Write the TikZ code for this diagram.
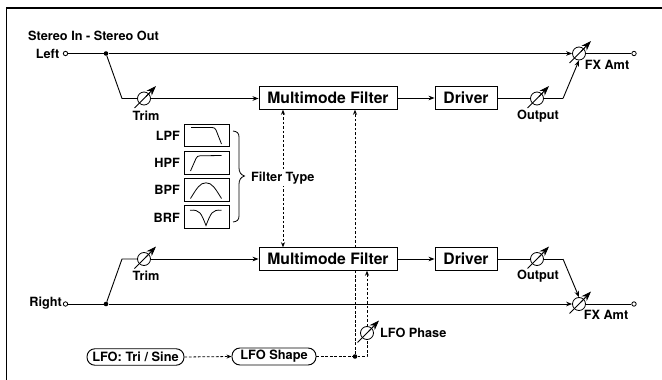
\documentclass[tikz,border=0pt]{standalone}
\usepackage{fontspec}
\setmainfont{TeX Gyre Heros}
\usetikzlibrary{arrows.meta,calc}
\tikzset{
  sig/.style={line width=0.9pt,-{Stealth[length=6pt,width=4.6pt]}},
  wire/.style={line width=0.9pt},
  ctl/.style={line width=0.8pt,dash pattern=on 2.6pt off 1.9pt},
  box/.style={draw,line width=0.95pt,fill=white,inner sep=0pt,font=\fontsize{15.7}{16}\selectfont\bfseries},
  pill/.style={draw,line width=0.95pt,fill=white,rounded corners=8pt,inner sep=0pt,font=\fontsize{12.8}{14}\selectfont\bfseries},
  small/.style={inner sep=0pt,font=\fontsize{12.7}{14}\selectfont\bfseries},
  potc/.style={draw,circle,line width=0.8pt,fill=white,minimum size=13pt,inner sep=0pt},
  port/.style={draw,circle,line width=0.8pt,fill=white,minimum size=4.4pt,inner sep=0pt},
  dot/.style={circle,fill=black,minimum size=4.6pt,inner sep=0pt},
  fbox/.style={draw,line width=0.9pt,minimum width=45pt,inner sep=0pt},
  curve/.style={line width=0.8pt},
}
\newcommand{\potslash}[1]{%
  \draw[line width=0.8pt] ($(#1)+(-9.5,9.5)$) -- ($(#1)+(6,-6)$);
  \draw[line width=0.8pt,-{Stealth[length=10pt,width=7pt]}] ($(#1)+(2,-2)$) -- ($(#1)+(12,-12.5)$);
}
\begin{document}
\begin{tikzpicture}[x=1pt,y=-1pt]
\useasboundingbox (0,0) rectangle (662,380);
\draw[line width=1.3pt] (6.5,380) -- (6.5,8) -- (662,8);

% boxes
\node[box,minimum width=138pt,minimum height=22.5pt] (MFa) at (328,98) {Multimode Filter};
\node[box,minimum width=62pt,minimum height=22.5pt] (DRa) at (466,98) {Driver};
\node[box,minimum width=138pt,minimum height=22.5pt] (MFb) at (328,259) {Multimode Filter};
\node[box,minimum width=62pt,minimum height=22.5pt] (DRb) at (466,259) {Driver};

% ports, junctions, bends
\node[port] (inL) at (65.5,53.5) {};
\node[port] (outL) at (634,53.5) {};
\node[port] (inR) at (65.5,304) {};
\node[port] (outR) at (634,304) {};
\node[dot] (jL) at (106,53.5) {};
\node[dot] (jR) at (106,304) {};
\coordinate (bLa) at (122,98.5);
\coordinate (bRa) at (122,259);
\coordinate (bLb) at (563,98.5);
\coordinate (bRb) at (563,259);

% pots
\node[potc] (trimL) at (144,98.5) {};
\node[potc] (trimR) at (144,259) {};
\node[potc] (outpL) at (537,98.5) {};
\node[potc] (outpR) at (537,259) {};
\node[potc] (fxL) at (579,53.5) {};
\node[potc] (fxR) at (579,304) {};
\node[potc] (phase) at (367,333) {};

% LFO
\node[pill,minimum width=97pt,minimum height=16.5pt] (lfo) at (135.5,357) {LFO: Tri / Sine};
\node[pill,minimum width=84pt,minimum height=17pt] (shape) at (274,356.5) {LFO Shape};
\node[dot] (jD) at (355,356.5) {};
\coordinate (cP) at (367,356.5);

% signal wires
\draw[wire] (inL) -- (jL);
\draw[sig] (jL) -- (fxL);
\draw[wire] (fxL) -- (outL);
\draw[wire] (jL) -- (bLa) -- (trimL);
\draw[sig] (trimL) -- (MFa.west |- trimL);
\draw[sig] (MFa.east |- DRa.west) -- (DRa.west);
\draw[wire] (DRa.east |- outpL) -- (outpL);
\draw[wire] (outpL) -- (bLb);
\draw[sig] (bLb) -- (fxL.south);

\draw[wire] (inR) -- (jR);
\draw[sig] (jR) -- (fxR);
\draw[wire] (fxR) -- (outR);
\draw[wire] (jR) -- (bRa) -- (trimR);
\draw[sig] (trimR) -- (MFb.west);
\draw[sig] (MFb.east) -- (DRb.west);
\draw[wire] (DRb.east) -- (outpR);
\draw[wire] (outpR) -- (bRb);
\draw[sig] (bRb) -- (fxR.north);

% pot slashes
\potslash{trimL}\potslash{trimR}\potslash{outpL}\potslash{outpR}\potslash{fxL}\potslash{fxR}\potslash{phase}

% control wires
\coordinate (xA) at (283,0);
\draw[ctl,{Stealth[length=5pt,width=4pt]}-{Stealth[length=5pt,width=4pt]}] (MFa.south -| xA) -- (MFb.north -| xA);
\draw[ctl,-{Stealth[length=5pt,width=4pt]}] (lfo.east) -- (shape.west);
\draw[ctl] (shape.east) -- (jD);
\draw[ctl] (jD) -- (cP) -- (phase);
\draw[ctl,-{Stealth[length=5pt,width=4pt]}] (phase) -- (MFb.south -| phase);
\draw[ctl] (jD) -- (MFb.south -| jD);
\draw[ctl,-{Stealth[length=5pt,width=4pt]}] (MFb.north -| jD) -- (MFa.south -| jD);

% filter type boxes
\node[fbox,minimum height=22pt] (lpf) at (206.5,135.2) {};
\node[fbox,minimum height=23pt] (hpf) at (206.5,162.5) {};
\node[fbox,minimum height=23pt] (bpf) at (206.5,190) {};
\node[fbox,minimum height=23pt] (brf) at (206.5,217.3) {};
\node[small,anchor=east] (tl) at (180,136) {LPF};
\node[small,anchor=east] (th) at (180,163) {HPF};
\node[small,anchor=east] (tb) at (180,190) {BPF};
\node[small,anchor=east] (tr) at (180,218) {BRF};
\draw[curve] (191,127.5) -- (212,127.5) .. controls (214,127.5) and (215,128) .. (216,130) -- (221.5,144);
\draw[curve] (190.5,171) -- (196,158.5) .. controls (197,156.5) and (198,155.8) .. (200,155.8) -- (221.5,155.5);
\draw[curve] (190.5,198.5) .. controls (197,188) and (200,182.8) .. (206,182.8) .. controls (212,182.8) and (215,188) .. (221.5,198.5);
\draw[curve] (190,210.2) .. controls (200,209.5) and (201,213) .. (206,225.5) .. controls (211,213) and (212,209.5) .. (221.5,210.2);
\draw[line width=0.8pt] (233,131) .. controls (237,131.5) and (239,133) .. (239,137) -- (239,168) .. controls (239,172) and (241,175) .. (244.5,176) .. controls (241,177) and (239,180) .. (239,184) -- (239,216) .. controls (239,220) and (237,221.5) .. (233,222);

% labels
\node[small,anchor=west] (title) at (28,36) {Stereo In - Stereo Out};
\node[small,anchor=east] (tLeft) at (59.5,53.5) {Left};
\node[small,anchor=east] (tRight) at (62,303) {Right};
\node[small] (t1) at (146,116) {Trim};
\node[small] (t2) at (146,276) {Trim};
\node[small] (t3) at (538,116) {Output};
\node[small] (t4) at (538,276) {Output};
\node[small] (t5) at (607,65) {FX Amt};
\node[small] (t6) at (606,315) {FX Amt};
\node[small,anchor=west] (t7) at (380,333) {LFO Phase};
\node[small,anchor=west,fill=white,inner ysep=2pt] (t8) at (251,178) {Filter Type};
\end{tikzpicture}
\end{document}
